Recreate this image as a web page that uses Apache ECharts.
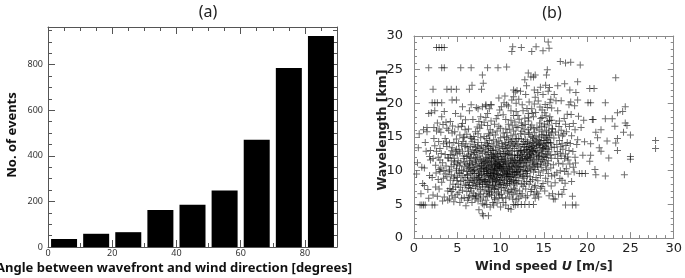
<!DOCTYPE html>
<html lang="en">
<head>
    <meta charset="UTF-8">
    <title>Wavefront angle and wavelength</title>
    <style>
        html,body{
            width: 100%;
            height: 100%;
            margin: 0;
            padding: 0;
            background: #fff;
        }
        #chart{
            width: 685px;
            height: 278px;
        }
    </style>
</head>
<body>
    <div id="chart"></div>
    <script src="https://cdn.jsdelivr.net/npm/echarts@6/dist/echarts.min.js"></script>
    <script>
        // (a) histogram: bin centre [deg] and number of events
        var angleBins = [5, 15, 25, 35, 45, 55, 65, 75, 85];
        var eventCounts = [35, 58, 65, 162, 185, 248, 470, 785, 925];
        var angleMax = 90, angleStep = 20, angleMinorStep = 5, lastAngleLabel = 80;
        var countMax = 965, countStep = 200, countMinorStep = 50, lastCountLabel = 800;

        // (b) scatter: [wind speed U (m/s), wavelength (km)]
        var pointsSlow = [
            [0.3,9.5],[0.4,11.2],[0.6,15.5],[0.7,4.9],[0.9,4.9],[1.1,4.9],[1.3,4.9],[0.8,6.6],[1.0,8.1],[1.2,10.4],
            [1.4,12.9],[1.5,15.8],[1.1,16.1],[1.7,18.5],[1.6,7.2],[1.8,9.3],[1.9,11.6],[0.5,13.4],[1.3,14.2],[1.9,13.0],
            [1.7,5.9],[1.5,16.4],[0.9,10.5],[1.8,12.1],[1.2,7.8],
            [2.1,4.9],[2.4,4.9],[2.2,6.4],[2.5,7.6],[2.8,8.7],[3.0,9.9],[3.3,11.2],[3.6,12.4],[3.8,13.6],[2.3,14.8],
            [2.6,15.9],[2.9,16.2],[3.2,18.0],[3.5,18.8],[2.0,18.6],[2.4,18.9],[2.7,17.1],[3.1,15.7],[3.4,14.0],[3.7,10.7],
            [2.2,11.8],[2.6,12.9],[3.0,13.3],[3.9,7.0],[3.5,6.1],[3.2,8.3],[2.9,10.2],[2.1,9.0],[2.7,6.2],[3.8,16.3],
            [3.9,11.9],[3.6,9.5],[3.3,5.5],[2.4,13.7],[3.0,11.6],[2.8,12.0],[3.6,14.8],[3.4,8.9],[2.5,10.8],[3.8,9.1],
            [2.3,16.4],[3.9,5.6],[3.7,17.2],[2.9,7.3],[3.1,10.4],
            [4.1,5.8],[4.3,6.9],[4.5,8.0],[4.7,9.2],[4.9,10.3],[5.1,11.5],[5.3,12.6],[5.5,13.8],[5.7,14.9],[5.9,16.1],
            [4.2,17.3],[4.4,15.6],[4.6,14.2],[4.8,12.8],[5.0,11.0],[5.2,9.7],[5.4,8.4],[5.6,7.1],[5.8,6.0],[4.0,11.9],
            [4.3,10.6],[4.5,12.3],[4.8,7.6],[5.0,6.5],[5.3,5.3],[5.5,10.1],[5.7,11.8],[5.9,9.0],[4.2,8.6],[4.4,13.4],
            [4.6,10.9],[4.9,14.7],[5.1,16.5],[5.4,18.1],[5.6,17.0],[5.8,12.2],[4.1,14.1],[4.7,11.3],[5.2,13.1],[5.9,7.8],
            [4.3,9.4],[5.5,5.9],[4.6,5.4],[5.0,9.0],[5.8,10.6],[4.0,16.0],[4.8,18.5],[5.3,15.3],[5.6,12.9],[4.5,7.2],
            [5.1,8.0],[5.7,8.6],[4.2,12.4],[5.4,11.2],[4.9,10.0],[5.9,13.6],[4.4,6.3],[5.2,6.8],[4.7,15.8],[5.5,16.6],
            [4.1,10.1],[5.0,12.5],[5.8,15.0],[4.6,8.9],[5.3,9.6],[4.9,13.2],[5.7,10.0],[4.3,11.5],
            [2.55,9.65],[3.15,12.55],[3.45,10.05],[3.75,14.25],[4.05,9.85],[4.35,12.95],[4.65,11.85],[4.95,8.55],[5.25,10.75],[5.55,9.25],
            [5.85,11.35],[4.15,7.35],[4.75,6.05],[5.35,7.55],[5.65,14.35],[5.15,14.05],[4.45,16.65],[5.95,17.55],[3.35,16.85],[2.85,14.35]
        ];
        var pointsMid = [
            [6.0,4.8],[6.2,5.6],[6.4,6.3],[6.6,7.0],[6.8,7.8],[7.0,8.5],[7.2,9.2],[7.4,10.0],[7.6,10.7],[7.8,11.4],
            [6.1,12.1],[6.3,12.9],[6.5,13.6],[6.7,14.3],[6.9,15.1],[7.1,15.8],[7.3,16.5],[7.5,17.3],[7.7,18.0],[7.9,19.5],
            [6.0,8.0],[6.2,9.3],[6.4,10.5],[6.6,11.8],[6.8,9.0],[7.0,10.2],[7.2,11.6],[7.4,12.8],[7.6,8.2],[7.8,9.4],
            [6.1,6.9],[6.3,7.5],[6.5,8.8],[6.7,10.9],[6.9,12.4],[7.1,13.5],[7.3,7.4],[7.5,6.6],[7.7,5.8],[7.9,5.1],
            [6.2,10.8],[6.4,11.5],[6.6,9.6],[6.8,13.1],[7.0,14.6],[7.2,6.1],[7.4,8.7],[7.6,12.2],[7.8,13.8],[6.0,14.0],
            [6.3,16.2],[6.5,15.0],[6.7,5.3],[6.9,6.7],[7.1,7.7],[7.3,10.6],[7.5,11.1],[7.7,14.9],[7.9,8.0],[6.1,9.9],
            [6.4,7.9],[6.6,12.6],[6.8,11.2],[7.0,9.6],[7.2,13.0],[7.4,14.2],[7.6,9.8],[7.8,10.3],[6.2,13.4],[6.9,8.3],
            [7.3,12.0],[7.7,7.2],[6.5,10.1],[7.1,11.9],[7.5,9.0],[6.3,6.0],[7.9,12.6],[6.7,8.5],[7.4,5.5],[6.0,11.0],
            [6.8,17.6],[7.6,16.3],[6.4,18.9],[7.2,19.4],[7.8,16.8],[6.6,14.8],[7.0,12.7],[7.5,4.2],[7.9,3.6],[6.1,15.4],
            [6.9,10.0],[7.3,8.9],[7.7,11.7],[6.5,12.0],[7.1,6.3],[6.3,10.3],[7.6,13.3],[6.8,6.2],[7.4,15.5],[6.2,8.6],
            [6.15,9.45],[6.45,11.05],[6.85,10.45],[7.05,11.35],[7.25,8.05],[7.45,9.55],[7.65,10.25],[7.85,8.75],[6.55,7.35],[6.95,13.85],
            [7.35,13.65],[7.75,12.95],[6.25,12.35],[7.15,10.85],[7.55,7.95],[6.75,9.85],[7.95,11.05],[6.35,8.25],[7.05,5.85],[7.65,6.45],
            [8.0,3.3],[8.6,3.3],[8.1,4.9],[8.3,5.6],[8.5,6.2],[8.7,6.9],[8.9,7.5],[9.1,8.2],[9.3,8.8],[9.5,9.4],
            [9.7,10.1],[9.9,10.7],[8.2,11.4],[8.4,12.0],[8.6,12.7],[8.8,13.3],[9.0,14.0],[9.2,14.6],[9.4,15.3],[9.6,15.9],
            [9.8,16.6],[8.1,17.2],[8.3,17.9],[8.5,18.5],[8.7,19.2],[8.9,19.8],[9.1,5.3],[9.3,6.0],[9.5,6.6],[9.7,7.3],
            [9.9,7.9],[8.0,8.6],[8.2,9.2],[8.4,9.9],[8.6,10.5],[8.8,11.2],[9.0,11.8],[9.2,12.5],[9.4,13.1],[9.6,13.8],
            [9.8,14.4],[8.1,7.0],[8.3,7.7],[8.5,8.3],[8.7,9.0],[8.9,9.6],[9.1,10.3],[9.3,10.9],[9.5,11.6],[9.7,12.2],
            [9.9,12.9],[8.0,13.5],[8.2,14.2],[8.4,14.8],[8.6,15.5],[8.8,16.1],[9.0,9.1],[9.2,9.8],[9.4,10.4],[9.6,11.1],
            [9.8,11.7],[8.1,10.1],[8.3,10.7],[8.5,11.3],[8.7,11.9],[8.9,12.4],[9.1,13.0],[9.3,7.2],[9.5,8.0],[9.7,8.6],
            [9.9,9.2],[8.0,6.1],[8.4,5.0],[8.8,4.6],[9.2,4.9],[9.6,5.2],[9.8,5.9],[8.6,7.6],[9.0,6.8],[9.4,7.7],
            [8.2,12.8],[8.6,13.6],[9.0,12.2],[9.4,11.9],[9.8,13.4],[8.4,8.0],[8.8,8.5],[9.2,9.5],[9.6,10.0],[9.9,10.4],
            [8.1,15.1],[8.5,16.7],[8.9,17.4],[9.3,16.9],[9.7,18.2],[9.9,19.0],[8.3,19.6],[9.5,17.7],[8.7,14.5],[9.1,15.7],
            [8.0,11.6],[8.2,10.4],[8.4,11.0],[8.6,9.3],[8.8,10.0],[9.0,10.7],[9.2,11.4],[9.4,8.4],[9.6,9.0],[9.8,8.2],
            [8.5,14.0],[8.9,13.0],[9.3,12.0],[9.7,11.4],[8.3,13.2],[9.1,7.8],[9.5,12.6],[8.7,6.5],[9.9,6.4],[8.1,9.5],
            [8.15,8.35],[8.35,9.55],[8.55,10.15],[8.75,10.75],[8.95,11.45],[9.15,12.15],[9.35,9.65],[9.55,10.35],[9.75,9.45],[9.95,11.25],
            [8.25,11.85],[8.45,12.45],[8.65,8.75],[8.85,9.25],[9.05,8.45],[9.25,10.55],[9.45,11.15],[9.65,12.45],[9.85,10.95],[8.05,10.45],
            [8.55,7.15],[8.95,6.35],[9.35,5.75],[9.75,6.85],[8.45,13.75],[9.15,13.55],[9.55,14.25],[8.75,15.25],[9.25,7.35],[8.35,6.65],
            [10.0,4.6],[10.3,5.3],[10.6,5.9],[10.9,4.4],[11.2,4.3],[11.5,5.0],[11.8,5.7],[10.1,6.5],[10.4,7.1],[10.7,7.8],
            [11.0,8.4],[11.3,9.1],[11.6,9.7],[11.9,10.4],[10.2,11.0],[10.5,11.7],[10.8,12.3],[11.1,13.0],[11.4,13.6],[11.7,14.3],
            [10.0,14.9],[10.3,15.6],[10.6,16.2],[10.9,16.9],[11.2,17.5],[11.5,18.2],[11.8,18.8],[10.1,19.5],[10.4,20.1],[10.7,19.8],
            [11.0,6.1],[11.3,6.8],[11.6,7.4],[11.9,8.1],[10.2,8.7],[10.5,9.4],[10.8,10.0],[11.1,10.7],[11.4,11.3],[11.7,12.0],
            [10.0,12.6],[10.3,13.3],[10.6,13.9],[10.9,14.6],[11.2,15.2],[11.5,15.9],[11.8,16.5],[10.1,9.0],[10.4,9.7],[10.7,10.3],
            [11.0,11.0],[11.3,11.6],[11.6,12.3],[11.9,12.9],[10.2,13.6],[10.5,14.2],[10.8,8.1],[11.1,8.7],[11.4,9.4],[11.7,10.0],
            [10.0,10.6],[10.3,11.3],[10.6,11.9],[10.9,12.6],[11.2,7.2],[11.5,7.9],[11.8,8.5],[10.1,7.5],[10.4,8.2],[10.7,8.9],
            [11.0,9.5],[11.3,10.2],[11.6,10.8],[11.9,11.5],[10.2,12.1],[10.5,12.8],[10.8,13.4],[11.1,14.1],[11.4,14.7],[11.7,15.4],
            [10.0,16.3],[10.6,17.6],[11.2,18.9],[11.8,20.0],[10.3,18.3],[10.9,19.6],[11.5,21.0],[11.9,21.9],[11.3,20.5],[10.5,21.1],
            [10.2,6.0],[10.8,6.7],[11.4,5.8],[11.9,6.6],[10.6,4.9],[11.7,4.9],[10.4,10.9],[11.0,12.4],[11.6,13.3],[10.7,14.9],
            [10.1,11.7],[10.9,9.1],[11.5,11.1],[10.3,9.9],[11.1,9.8],[11.8,13.8],[10.6,12.5],[11.3,12.9],[10.0,8.0],[11.9,9.2],
            [10.15,10.25],[10.35,10.65],[10.55,11.35],[10.75,11.05],[10.95,10.45],[11.15,11.55],[11.35,12.35],[11.55,9.35],[11.75,11.25],[11.95,12.25],
            [10.25,9.35],[10.45,8.55],[10.65,9.15],[10.85,9.65],[11.05,8.05],[11.25,8.45],[11.45,10.55],[11.65,8.25],[11.85,9.75],[10.05,12.05],
            [10.35,12.55],[10.65,13.25],[10.95,13.75],[11.25,14.35],[11.55,13.95],[11.85,14.75],[10.15,14.05],[10.45,15.05],[10.75,15.65],[11.05,16.15],
            [11.35,16.75],[11.65,17.25],[10.55,7.45],[10.95,6.95],[11.45,6.45],[11.75,7.15]
        ];
        var pointsCore = [
            [7.6,9.3],[7.8,10.8],[8.0,9.9],[8.2,8.7],[8.4,10.3],[8.6,11.6],[8.8,9.7],[9.0,10.2],[9.2,8.9],[9.4,11.0],
            [9.6,9.6],[9.8,10.6],[10.0,9.3],[10.2,10.0],[10.4,11.5],[10.6,10.6],[10.8,9.4],[11.0,10.3],[11.2,11.8],[11.4,9.9],
            [11.6,11.6],[11.8,10.7],[12.0,12.3],[12.2,11.5],[12.4,13.0],[12.6,11.1],[12.8,13.9],[13.0,12.1],[13.2,11.6],[13.4,13.2],
            [13.6,12.4],[13.8,13.6],[14.0,12.9],[14.2,13.7],[14.4,12.1],[14.6,14.1],[14.8,12.9],[15.0,14.5],[15.2,13.6],[15.4,12.5],
            [7.7,8.5],[8.1,11.2],[8.5,9.6],[8.9,10.9],[9.3,10.1],[9.7,10.8],[10.1,10.4],[10.5,10.1],[10.9,11.2],[11.3,10.6],
            [11.7,9.0],[12.1,10.6],[12.5,12.2],[12.9,11.8],[13.3,12.3],[13.7,13.0],[14.1,14.0],[14.5,13.9],[14.9,13.3],[15.3,15.2],
            [7.9,7.6],[8.3,8.4],[8.7,7.9],[9.1,9.2],[9.5,8.7],[9.9,8.5],[10.3,8.0],[10.7,9.6],[11.1,9.1],[11.5,8.6],
            [11.9,9.9],[12.3,9.5],[12.7,9.1],[13.1,9.2],[13.5,10.1],[13.9,11.7],[14.3,10.9],[14.7,11.4],[15.1,12.0],[15.5,14.2]
        ];
        var pointsFast = [
            [12.0,5.0],[12.4,5.0],[12.8,5.0],[13.3,5.0],[13.8,5.0],[12.1,5.9],[12.5,6.6],[12.9,7.3],[13.3,8.0],[13.7,8.7],
            [12.2,9.4],[12.6,10.1],[13.0,10.8],[13.4,11.5],[13.8,12.2],[12.3,12.9],[12.7,13.6],[13.1,14.3],[13.5,15.0],[13.9,15.7],
            [12.0,16.4],[12.4,17.1],[12.8,17.8],[13.2,18.5],[13.6,19.2],[13.9,19.9],[12.1,20.6],[12.5,19.8],[12.9,21.3],[13.3,20.2],
            [12.2,7.0],[12.6,7.7],[13.0,8.4],[13.4,9.1],[13.8,9.8],[12.3,10.5],[12.7,11.2],[13.1,11.9],[13.5,12.6],[13.9,13.3],
            [12.0,14.0],[12.4,14.7],[12.8,15.4],[13.2,16.1],[13.6,16.8],[12.1,8.5],[12.5,9.2],[12.9,9.9],[13.3,10.6],[13.7,11.3],
            [12.2,12.0],[12.6,12.7],[13.0,13.4],[13.4,14.1],[13.8,14.8],[12.3,15.5],[12.7,16.2],[13.1,6.3],[13.5,6.9],[13.9,7.6],
            [12.0,11.0],[12.4,11.7],[12.8,12.4],[13.2,13.1],[13.6,13.8],[12.1,13.0],[12.5,13.9],[12.9,14.6],[13.3,15.4],[13.7,15.0],
            [12.2,10.2],[12.6,8.9],[13.0,9.6],[13.4,10.3],[13.8,11.0],[12.3,11.5],[12.7,10.0],[13.1,12.8],[13.5,11.9],[13.9,10.5],
            [12.0,18.2],[12.6,18.9],[13.2,17.4],[13.8,18.0],[12.3,21.8],[13.0,22.6],[13.5,23.9],[13.2,24.5],[12.8,23.5],[13.9,22.0],
            [12.4,8.0],[13.6,7.2],[12.9,6.0],[13.4,12.0],[12.1,14.8],[13.7,14.2],[12.5,16.7],[13.1,10.0],[12.8,11.6],[13.3,13.6],
            [12.15,11.25],[12.35,12.45],[12.55,11.85],[12.75,12.95],[12.95,13.15],[13.15,14.05],[13.35,12.65],[13.55,13.45],[13.75,12.85],[13.95,14.45],
            [12.25,13.55],[12.45,10.65],[12.65,14.35],[12.85,10.55],[13.05,11.25],[13.25,15.65],[13.45,16.45],[13.65,10.85],[13.85,16.25],[12.05,9.85],
            [12.45,15.85],[12.85,16.85],[13.25,17.85],[13.65,18.55],[12.15,17.65],[13.05,19.25],[13.45,8.45],[12.75,8.15],[12.35,6.25],[13.85,6.45],
            [14.0,5.9],[14.3,6.6],[14.6,7.4],[14.9,8.1],[15.2,8.9],[15.5,9.6],[15.8,10.4],[14.1,11.1],[14.4,11.9],[14.7,12.6],
            [15.0,13.4],[15.3,14.1],[15.6,14.9],[15.9,15.6],[14.2,16.4],[14.5,17.1],[14.8,17.9],[15.1,18.6],[15.4,19.4],[15.7,20.1],
            [14.0,20.9],[14.3,21.6],[14.6,22.4],[14.9,21.3],[15.2,22.7],[15.5,21.8],[15.8,20.6],[14.1,9.0],[14.4,9.8],[14.7,10.5],
            [15.0,11.3],[15.3,12.0],[15.6,12.8],[15.9,13.5],[14.2,14.3],[14.5,15.0],[14.8,15.8],[15.1,16.5],[15.4,17.3],[15.7,18.0],
            [14.0,7.8],[14.3,8.5],[14.6,9.3],[14.9,10.0],[15.2,10.8],[15.5,11.5],[15.8,12.3],[14.1,13.0],[14.4,13.8],[14.7,14.5],
            [15.0,15.3],[15.3,16.0],[15.6,16.8],[15.9,17.5],[14.2,11.6],[14.5,12.3],[14.8,13.1],[15.1,13.8],[15.4,14.6],[15.7,15.3],
            [14.0,10.2],[14.6,11.0],[15.2,12.5],[15.8,14.1],[14.3,12.7],[14.9,14.0],[15.5,13.2],[14.1,15.2],[14.7,16.6],[15.3,10.2],
            [15.9,9.2],[15.1,7.0],[14.4,6.1],[15.6,6.3],[14.8,19.0],[15.9,19.3],
            [14.15,12.35],[14.35,14.65],[14.55,13.45],[14.75,15.35],[14.95,12.15],[15.15,14.85],[15.35,13.25],[15.55,15.75],[15.75,14.15],[15.95,16.25],
            [14.25,10.65],[14.45,16.05],[14.65,17.75],[14.85,11.65],[15.05,16.95],[15.25,18.15],[15.45,11.05],[15.65,17.45],[15.85,11.85],[14.05,18.65],
            [14.55,19.45],[15.15,19.85],[15.65,22.35],[14.35,20.35],[15.45,8.35],[14.75,7.65],[15.85,7.75],[14.15,6.85],
            [16.0,6.6],[16.1,5.8],[16.3,8.2],[16.5,9.7],[16.7,11.1],[16.9,12.6],[17.1,14.0],[17.3,15.5],[17.5,16.9],[17.7,18.4],
            [17.9,19.8],[16.2,21.3],[16.4,20.4],[16.6,18.9],[16.8,17.4],[17.0,16.0],[17.2,13.2],[17.4,11.8],[17.6,10.3],[17.8,9.5],
            [16.1,10.9],[16.3,12.4],[16.5,13.9],[16.7,15.3],[16.9,10.0],[17.1,8.6],[17.3,7.2],[17.5,12.5],[17.7,14.2],[17.9,13.0],
            [16.0,16.2],[16.4,17.0],[16.8,14.5],[17.2,11.0],[17.6,15.8],[16.2,13.5],[16.6,11.8],[17.0,12.2],[17.4,9.9],[17.8,11.6],
            [16.7,6.5],[17.1,6.5],[16.3,5.8],[17.5,4.9],[18.3,4.9],[18.7,4.9],[16.6,22.6],[17.4,22.9],[17.0,20.4],
            [16.15,14.85],[16.35,15.75],[16.55,12.85],[16.75,16.55],[16.95,13.55],[17.15,15.15],[17.35,17.75],[17.55,13.75],[17.75,12.05],[17.95,16.55],
            [16.25,9.35],[16.85,8.85],[17.45,8.15],[18.05,14.05],[18.35,12.85],[18.65,11.15],[18.15,18.35],[18.55,19.65],
            [18.0,22.0],[18.1,20.2],[18.7,21.6],[18.9,20.5],[18.9,23.2],[18.3,6.2],[18.5,9.8],[18.6,12.0],[18.8,13.9],[18.2,15.2],
            [18.4,17.0],[19.0,18.1],[19.3,16.4],[18.9,14.6],[19.5,12.3],[19.1,9.6],[19.4,9.6],[18.0,11.0],[18.2,8.4],[19.7,14.3],
            [19.8,9.6],[18.6,16.1],[19.6,17.5],[18.4,10.5],
            [20.1,20.1],[20.4,20.1],[20.3,22.2],[20.8,22.2],[20.6,17.6],[20.7,17.6],[20.4,14.0],[20.4,12.3],[20.9,10.2],[21.0,9.4],
            [21.0,15.7],[21.2,14.9],[21.6,12.9],[21.6,16.1],[22.1,9.2],[22.3,14.4],[22.1,20.1],[22.1,17.7],[22.9,17.7],[23.2,16.6],
            [23.3,23.8],[23.5,18.6],[24.1,18.8],[24.4,19.5],[24.4,17.1],[24.6,16.7],[24.2,15.7],[23.5,14.8],[23.3,14.1],[23.5,13.0],
            [24.3,9.4],[25.0,12.1],[25.0,11.7],[25.0,15.3],[20.3,11.4],[21.4,13.4],[22.5,11.9],
            [27.9,14.5],[27.9,13.3]
        ];
        var pointsTall = [
            [2.6,28.3],[2.9,28.3],[3.2,28.3],[3.5,28.3],[1.7,25.3],[3.2,25.3],[3.5,25.3],[5.4,25.3],[6.6,25.3],[8.5,25.3],
            [9.7,25.3],[7.9,24.2],[8.0,23.0],[2.2,22.1],[3.8,22.1],[4.3,22.1],[4.9,22.1],[6.4,22.1],[6.7,22.7],[7.8,22.1],
            [2.1,20.1],[2.4,20.1],[2.7,20.1],[3.2,20.1],[4.4,20.5],[4.9,20.5],[5.6,19.5],[6.6,19.8],[7.4,19.2],[8.3,19.8],
            [8.9,19.8],[9.8,20.8],[11.5,22.0],[11.7,21.7],[10.7,25.4],
            [11.4,28.4],[12.4,28.3],[11.3,27.7],[13.6,27.7],[14.1,28.4],[14.9,27.8],[15.5,29.1],[15.6,28.2],
            [16.9,26.2],[17.5,26.0],[18.1,26.1],[19.2,25.7],[15.4,25.0],[15.3,24.2],[14.0,24.2],[13.8,23.9]
        ];

        var frameColor = '#555';
        var plusPath = 'path://M3,0h1v3h3v1h-3v3h-1v-3h-3v-1h3z';

        // one axis of the framed histogram; minor ones carry only short ticks
        function histAxis(pos, max, step, lastLabel, isMinor, showLabel) {
            return {
                gridIndex: 0,
                type: 'value',
                position: pos,
                min: 0,
                max: max,
                interval: step,
                axisLine: { show: !isMinor, onZero: false, lineStyle: { color: frameColor, width: 1 } },
                axisTick: { show: true, inside: true, length: isMinor ? 4 : 7, lineStyle: { color: frameColor, width: 1 } },
                axisLabel: {
                    show: !!showLabel,
                    fontSize: 9,
                    color: '#333',
                    fontFamily: 'Noto Sans',
                    margin: (pos == 'left') ? 5 : 2,
                    showMaxLabel: false,
                    formatter: function (v) { return v > lastLabel ? '' : String(v); }
                },
                splitLine: { show: false }
            };
        }

        function scatterAxis(pos, showLabel) {
            return {
                gridIndex: 1,
                type: 'value',
                position: pos,
                min: 0,
                max: 30,
                interval: 5,
                axisLine: { show: true, onZero: false, lineStyle: { color: '#8a8a8a', width: 1 } },
                axisTick: { show: true, inside: true, length: 6, lineStyle: { color: '#8a8a8a' } },
                minorTick: { show: true, splitNumber: 5, length: 3, lineStyle: { color: '#8a8a8a' } },
                axisLabel: {
                    show: showLabel,
                    fontSize: 13,
                    color: '#222',
                    fontFamily: 'DejaVu Sans',
                    margin: (pos == 'left') ? 11 : 4
                },
                splitLine: { show: false }
            };
        }

        var chart = echarts.init(document.getElementById('chart'), null, { renderer: 'canvas' });

        var xAxes = [
            histAxis('bottom', angleMax, angleStep, lastAngleLabel, false, true),
            histAxis('bottom', angleMax, angleMinorStep, lastAngleLabel, true, false),
            histAxis('top', angleMax, angleStep, lastAngleLabel, false, false),
            histAxis('top', angleMax, angleMinorStep, lastAngleLabel, true, false),
            scatterAxis('bottom', true),
            scatterAxis('top', false)
        ];
        var yAxes = [
            histAxis('left', countMax, countStep, lastCountLabel, false, true),
            histAxis('left', countMax, countMinorStep, lastCountLabel, true, false),
            histAxis('right', countMax, countStep, lastCountLabel, false, false),
            histAxis('right', countMax, countMinorStep, lastCountLabel, true, false),
            scatterAxis('left', true),
            scatterAxis('right', false)
        ];
        xAxes[4].name = '{n|Wind speed }{u|U}{n| [m/s]}';
        xAxes[4].nameLocation = 'middle';
        xAxes[4].nameGap = 19;
        xAxes[4].nameTextStyle = {
            rich: {
                n: { fontSize: 12.5, fontWeight: 'bold', color: '#222', fontFamily: 'DejaVu Sans' },
                u: { fontSize: 12.5, fontWeight: 'bold', fontStyle: 'italic', color: '#222', fontFamily: 'DejaVu Sans' }
            }
        };

        var option = {
            backgroundColor: '#fff',
            animation: false,
            grid: [
                { left: 48, top: 27, right: 348, bottom: 31, containLabel: false },
                { left: 414, top: 36, right: 8, bottom: 39, containLabel: false }
            ],
            xAxis: xAxes,
            yAxis: yAxes,
            graphic: [
                { type: 'text', x: 208, y: 12, style: { text: '(a)', fontSize: 16, fontFamily: 'Noto Sans', fill: '#222', textAlign: 'center', textVerticalAlign: 'middle' } },
                { type: 'text', x: 552, y: 13, style: { text: '(b)', fontSize: 16, fontFamily: 'Noto Sans', fill: '#222', textAlign: 'center', textVerticalAlign: 'middle' } },
                { type: 'text', x: 174, y: 268, style: { text: 'Angle between wavefront and wind direction [degrees]', fontSize: 13, fontWeight: 'bold', fontFamily: 'Noto Sans', fill: '#111', textAlign: 'center', textVerticalAlign: 'middle' } },
                { type: 'text', x: 12, y: 135, rotation: Math.PI / 2, style: { text: 'No. of events', fontSize: 13, fontWeight: 'bold', fontFamily: 'Noto Sans', fill: '#111', textAlign: 'center', textVerticalAlign: 'middle' } },
                { type: 'text', x: 383, y: 130, rotation: Math.PI / 2, style: { text: 'Wavelength [km]', fontSize: 12.5, fontWeight: 'bold', fontFamily: 'DejaVu Sans', fill: '#222', textAlign: 'center', textVerticalAlign: 'middle' } }
            ],
            series: [
                {
                    type: 'bar',
                    xAxisIndex: 0,
                    yAxisIndex: 0,
                    barWidth: 26,
                    itemStyle: { color: '#000' },
                    data: angleBins.map(function (a, i) { return [a, eventCounts[i]]; })
                },
                {
                    type: 'scatter',
                    xAxisIndex: 4,
                    yAxisIndex: 4,
                    symbol: plusPath,
                    symbolSize: 7,
                    itemStyle: { color: 'rgba(0,0,0,0.72)' },
                    data: pointsSlow.concat(pointsMid, pointsCore, pointsFast, pointsTall)
                }
            ]
        };
        chart.setOption(option);
    </script>
</body>
</html>
